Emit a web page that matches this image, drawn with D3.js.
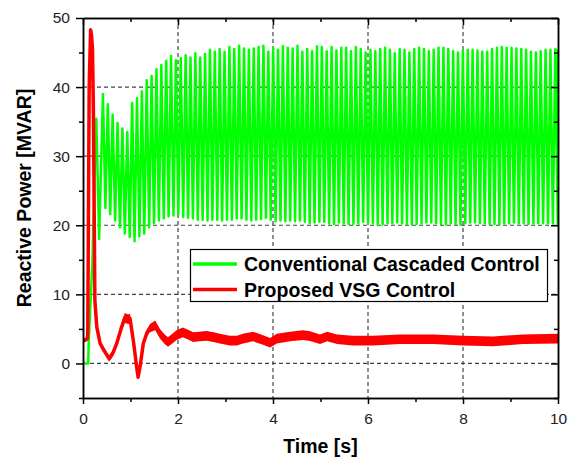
<html>
<head>
<script src="https://d3js.org/d3.v7.min.js"></script>
<style>
  body { margin: 0; background: #fff; }
  text { font-family: "Liberation Sans", Arial, sans-serif; }
</style>
</head>
<body>
<svg width="571" height="459"></svg>
<script>
    // green: conventional cascaded control (fast oscillation, one peak + one trough per cycle)
    const greenStart = [[0, 0], [0.11, 0], [0.12, 3], [0.2, 15], [0.26, 32], [0.28, 35.4], [0.34, 18]];
    const greenFirstPeak = 0.42;   // s
    const greenPeriod = 0.1024;    // s, read from spike spacing
    const greenPeaks = [
        39.0, 37.5, 36.0, 34.8, 34.0, 33.5, 37.7, 38.4, 39.4, 41.0, 41.6, 42.6, 43.2, 43.8,
        44.5, 43.9, 44.2, 44.6, 44.3, 44.9, 44.3, 44.8, 45.4, 45.1, 45.5, 45.1, 45.8, 45.5,
        46.0, 45.6, 45.4, 45.6, 45.8, 46.0, 45.1, 45.7, 45.4, 45.9, 45.7, 45.6, 46.0, 45.1, 45.5, 45.2, 45.9,
        45.8, 45.2, 45.8, 45.3, 45.7, 45.7, 45.2, 45.8, 45.5, 45.0, 45.4, 45.2, 45.5, 45.7, 45.4, 44.9,
        45.5, 45.4, 45.0, 45.5, 45.7, 45.5, 45.2, 45.4, 45.7, 45.7, 45.5, 45.2, 45.0, 45.3, 45.4, 45.4,
        45.3, 45.1, 45.1, 45.5, 45.7, 45.8, 45.7, 45.7, 45.6, 45.5, 45.4, 45.1, 45.0, 45.2, 45.4, 45.4, 45.5
    ];
    const greenTroughs = [
        22.5, 21.6, 20.7, 19.7, 18.8, 18.3, 17.7, 18.4, 18.8, 19.7, 20.3, 20.7, 21.0, 21.3,
        21.4, 21.6, 21.2, 21.1, 21.0, 20.8, 20.8, 20.7, 20.8, 20.8, 20.7, 20.8, 20.8, 21.0,
        21.0, 20.8, 20.7, 20.8, 20.9, 21.1, 20.8, 20.6, 20.7, 20.6, 20.7, 20.6, 20.7, 20.5, 20.3, 20.4, 20.5,
        20.5, 20.3, 20.2, 20.4, 20.3, 20.2, 20.2, 20.3, 20.5, 20.4, 20.3, 20.0, 20.1, 20.3, 20.3, 20.4,
        20.3, 20.2, 20.1, 20.2, 20.3, 20.4, 20.4, 20.3, 20.2, 20.1, 20.3, 20.2, 20.1, 20.3, 20.4, 20.4,
        20.3, 20.3, 20.2, 20.2, 20.1, 20.3, 20.3, 20.4, 20.3, 20.3, 20.2, 20.3, 20.3, 20.3, 20.3, 20.3, 20.2
    ];

    // red: proposed VSG control
    const redTime = [0, 0.05, 0.09, 0.1, 0.13, 0.16, 0.18, 0.2, 0.22, 0.25, 0.29, 0.36, 0.45, 0.55, 0.63,
        0.71, 0.8, 0.88, 0.95, 0.99, 1.06, 1.12, 1.16, 1.2, 1.27, 1.35, 1.41, 1.52, 1.62, 1.72,
        1.79, 1.9, 1.97, 2.1, 2.2, 2.32, 2.45, 2.6, 2.75, 2.88, 3.09, 3.24, 3.37, 3.58, 3.79,
        3.94, 4.08, 4.36, 4.63, 4.78, 4.99, 5.14, 5.35, 5.68, 6.11, 6.67, 7.37, 8.0, 8.63, 9.26, 10];
    const redValue = [3.3, 3.4, 3.6, 4, 40, 48.3, 47.5, 45.5, 36, 9.1, 5.3, 2.9, 1.8, 0.7, 1.5,
        2.9, 5, 6.6, 6.4, 6.5, 3.3, 0, -2, -0.5, 2.9, 4.5, 5.1, 5.5, 4.3, 3.5,
        3.1, 3.7, 4.1, 4.5, 4.2, 3.8, 3.9, 4.0, 3.8, 3.6, 3.3, 3.3, 3.6, 3.9, 3.4,
        3.0, 3.6, 3.9, 4.1, 3.95, 3.5, 3.9, 3.5, 3.3, 3.3, 3.5, 3.5, 3.3, 3.2, 3.5, 3.6];
    // half width of the high frequency ripple band
    const redRipple = [0.3, 0.3, 0.3, 0, 0, 0, 0, 0, 0, 0, 0.3, 0.4, 0.4, 0.4, 0.5,
        0.5, 0.6, 0.7, 0.7, 0.7, 0.4, 0.3, 0.3, 0.3, 0.4, 0.5, 0.6, 0.7, 0.7, 0.7,
        0.7, 0.7, 0.7, 0.7, 0.7, 0.7, 0.7, 0.7, 0.7, 0.7, 0.7, 0.7, 0.7, 0.7, 0.7,
        0.7, 0.7, 0.7, 0.7, 0.7, 0.7, 0.7, 0.7, 0.7, 0.7, 0.7, 0.7, 0.7, 0.7, 0.7, 0.7];

    const xMajor = [0, 2, 4, 6, 8, 10];
    const xMinor = [1, 3, 5, 7, 9];
    const yMajor = [0, 10, 20, 30, 40, 50];
    const yMinor = [-5, 5, 15, 25, 35, 45];
    const legendLabels = ["Conventional Cascaded Control", "Proposed VSG Control"];
    const colors = ["#00ff00", "#ff0000"];

    const plotL = 83, plotR = 558, plotT = 18, plotB = 398;

    const x = d3.scaleLinear().domain([0, 10]).range([plotL, plotR]);
    const y = d3.scaleLinear().domain([-5, 50]).range([plotB, plotT]);

    // build green polyline: start segment, then alternating peak/trough per cycle
    const green = greenStart.slice();
    greenPeaks.forEach((p, i) => {
        green.push([greenFirstPeak + i * greenPeriod, p]);
        green.push([greenFirstPeak + (i + 0.5) * greenPeriod, greenTroughs[i]]);
    });
    green.push([10, greenPeaks[greenPeaks.length - 1]]);

    const red = redTime.map((t, i) => ({t: t, v: redValue[i], r: redRipple[i]}));

    const svg = d3.select("svg");

    svg.append("clipPath").attr("id", "plot")
        .append("rect").attr("x", plotL).attr("y", plotT)
        .attr("width", plotR - plotL).attr("height", plotB - plotT);

    // dashed grid
    const grid = svg.append("g").attr("stroke", "#444").attr("stroke-width", 1.2)
        .attr("stroke-dasharray", "4,3");
    grid.selectAll(".gx").data([2, 4, 6, 8]).enter().append("line")
        .attr("x1", d => x(d)).attr("x2", d => x(d)).attr("y1", plotT).attr("y2", plotB);
    grid.selectAll(".gy").data([0, 10, 20, 30, 40]).enter().append("line")
        .attr("x1", plotL).attr("x2", plotR).attr("y1", d => y(d)).attr("y2", d => y(d));

    const plot = svg.append("g").attr("clip-path", "url(#plot)");

    plot.append("path")
        .datum(green)
        .attr("fill", "none")
        .attr("stroke", colors[0])
        .attr("stroke-width", 2.5)
        .attr("stroke-linejoin", "round")
        .attr("d", d3.line().x(d => x(d[0])).y(d => y(d[1])));

    plot.append("path")
        .datum(red)
        .attr("fill", colors[1])
        .attr("d", d3.area().x(d => x(d.t)).y0(d => y(d.v - d.r)).y1(d => y(d.v + d.r)));

    plot.append("path")
        .datum(red)
        .attr("fill", "none")
        .attr("stroke", colors[1])
        .attr("stroke-width", 3.5)
        .attr("stroke-linejoin", "round")
        .attr("d", d3.line().x(d => x(d.t)).y(d => y(d.v)));

    // axes
    function styleAxis(g) {
        g.selectAll(".domain").attr("stroke", "#000").attr("stroke-width", 1.5);
        g.selectAll(".tick line").attr("stroke", "#000").attr("stroke-width", 1.5);
        g.selectAll("text").attr("font-size", 15.5).attr("fill", "#222")
            .attr("font-family", "'Liberation Sans', Arial, sans-serif");
    }

    svg.append("g").attr("transform", `translate(0,${plotB})`)
        .call(d3.axisBottom(x).tickValues(xMajor).tickSize(6).tickSizeOuter(0).tickPadding(9).tickFormat(d3.format("d")))
        .call(styleAxis);
    svg.append("g").attr("transform", `translate(0,${plotB})`)
        .call(d3.axisBottom(x).tickValues(xMinor).tickSize(4).tickSizeOuter(0).tickFormat(""))
        .call(styleAxis);
    svg.append("g").attr("transform", `translate(${plotL},0)`)
        .call(d3.axisLeft(y).tickValues(yMajor).tickSize(7).tickSizeOuter(0).tickPadding(6).tickFormat(d3.format("d")))
        .call(styleAxis);
    svg.append("g").attr("transform", `translate(${plotL},0)`)
        .call(d3.axisLeft(y).tickValues(yMinor).tickSize(4).tickSizeOuter(0).tickFormat(""))
        .call(styleAxis);
    svg.append("g").attr("transform", `translate(0,${plotT})`)
        .call(d3.axisTop(x).tickValues(xMajor).tickSize(-7).tickSizeOuter(0).tickFormat(""))
        .call(styleAxis);
    svg.append("g").attr("transform", `translate(0,${plotT})`)
        .call(d3.axisTop(x).tickValues(xMinor).tickSize(-4).tickSizeOuter(0).tickFormat(""))
        .call(styleAxis);
    svg.append("g").attr("transform", `translate(${plotR},0)`)
        .call(d3.axisRight(y).tickValues(yMajor).tickSize(-7).tickSizeOuter(0).tickFormat(""))
        .call(styleAxis);
    svg.append("g").attr("transform", `translate(${plotR},0)`)
        .call(d3.axisRight(y).tickValues(yMinor).tickSize(-4).tickSizeOuter(0).tickFormat(""))
        .call(styleAxis);

    // axis titles
    svg.append("text")
        .attr("x", (plotL + plotR) / 2).attr("y", 453)
        .attr("text-anchor", "middle")
        .attr("font-size", 19.5).attr("font-weight", "bold")
        .text("Time [s]");
    svg.append("text")
        .attr("transform", "translate(31,198) rotate(-90)")
        .attr("text-anchor", "middle")
        .attr("font-size", 19.5).attr("font-weight", "bold")
        .text("Reactive Power [MVAR]");

    // legend
    const legend = svg.append("g");
    legend.append("rect")
        .attr("x", 190.5).attr("y", 249.5).attr("width", 357).attr("height", 52)
        .attr("fill", "#fff").attr("stroke", "#000").attr("stroke-width", 1.2);
    const items = legend.selectAll(".item").data(legendLabels).enter().append("g")
        .attr("transform", (d, i) => `translate(0,${264 + i * 25.5})`);
    items.append("line")
        .attr("x1", 193).attr("x2", 237).attr("y1", 0).attr("y2", 0)
        .attr("stroke", (d, i) => colors[i]).attr("stroke-width", 3.5);
    items.append("text")
        .attr("x", 244).attr("y", 7)
        .attr("font-size", 19.5).attr("font-weight", "bold")
        .text(d => d);
</script>
</body>
</html>
